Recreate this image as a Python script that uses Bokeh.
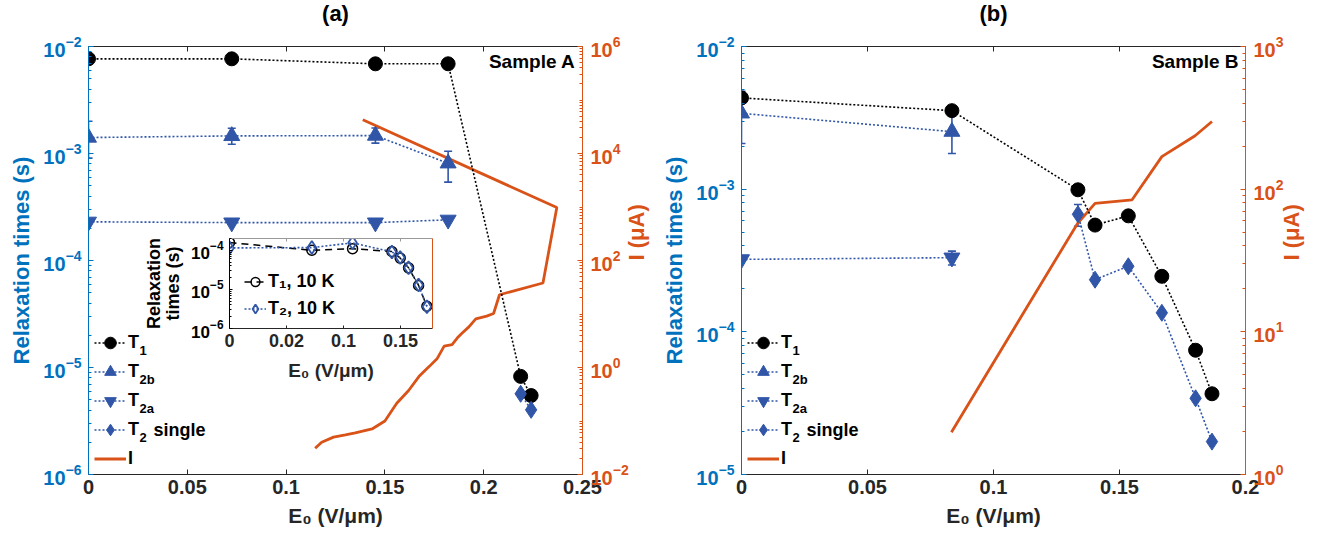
import math
from bokeh.plotting import figure
from bokeh.models import (Range1d, LogScale, LogAxis, LinearAxis, FixedTicker, CustomJSTickFormatter,
                          Whisker, TeeHead, ColumnDataSource, Legend, LegendItem, Label)
from bokeh.layouts import row, column
from bokeh.embed import file_html
from bokeh.resources import INLINE

# ---------------- data: panel (a), Sample A ----------------
a_T1_E = [0.0, 0.0725, 0.1452, 0.1820, 0.2187, 0.2240]
a_T1 = [7.67e-3, 7.67e-3, 6.89e-3, 6.89e-3, 8.26e-6, 5.47e-6]
a_T2b_E = [0.0, 0.0725, 0.1452, 0.1820]
a_T2b = [1.41e-3, 1.46e-3, 1.47e-3, 8.10e-4]
a_T2b_lo = [9.05e-4, 1.22e-3, 1.25e-3, 5.40e-4]
a_T2b_hi = [2.00e-3, 1.72e-3, 1.73e-3, 1.05e-3]
a_T2a_E = [0.0, 0.0725, 0.1452, 0.1820]
a_T2a = [2.30e-4, 2.26e-4, 2.26e-4, 2.40e-4]
a_T2s_E = [0.2187, 0.2240]
a_T2s = [5.68e-6, 4.02e-6]
a_I_E = [0.1147, 0.1180, 0.1240, 0.1300, 0.1350, 0.1435, 0.1500, 0.1560, 0.1620, 0.1672,
         0.1725, 0.1765, 0.1800, 0.1840, 0.1866, 0.1890, 0.1925, 0.1960, 0.2015, 0.2050,
         0.2080, 0.2300, 0.2370, 0.1388]
a_I = [0.031, 0.040, 0.050, 0.055, 0.060, 0.071, 0.100, 0.214, 0.372, 0.676,
       1.05, 1.48, 2.51, 2.69, 3.55, 4.37, 5.75, 8.13, 9.12, 10.2,
       22.9, 38.0, 977.0, 42700.0]

# inset of panel (a): 10 K data
ins_E = [0.0, 0.0722, 0.1079, 0.1424, 0.1497, 0.1570, 0.1658, 0.1731]
ins_T1 = [1.58e-4, 1.00e-4, 1.10e-4, 9.3e-5, 6.3e-5, 3.55e-5, 1.26e-5, 3.7e-6]
ins_T2 = [1.15e-4, 1.17e-4, 1.55e-4, 9.1e-5, 6.5e-5, 3.6e-5, 1.29e-5, 3.6e-6]
ins_x_ticks = [0.0, 0.05, 0.1, 0.15]
ins_x_labels = ["0", "0.02", "0.1", "0.15"]
ins_y_ticks = [1e-6, 1e-5, 1e-4]

# ---------------- data: panel (b), Sample B ----------------
b_T1_E = [0.0, 0.0835, 0.1335, 0.1403, 0.1535, 0.1668, 0.1802, 0.1867]
b_T1 = [4.36e-3, 3.55e-3, 9.9e-4, 5.6e-4, 6.5e-4, 2.45e-4, 7.43e-5, 3.68e-5]
b_T2b_E = [0.0, 0.0835]
b_T2b = [3.40e-3, 2.53e-3]
b_T2b_lo = [2.09e-3, 1.78e-3]
b_T2b_hi = [4.85e-3, 3.49e-3]
b_T2a_E = [0.0, 0.0835]
b_T2a = [3.22e-4, 3.31e-4]
b_T2a_lo = [3.22e-4, 2.94e-4]
b_T2a_hi = [3.22e-4, 3.68e-4]
b_T2s_E = [0.1335, 0.1403, 0.1535, 0.1668, 0.1802, 0.1867]
b_T2s = [6.67e-4, 2.32e-4, 2.88e-4, 1.36e-4, 3.42e-5, 1.70e-5]
b_T2s_errE = [0.1335]
b_T2s_lo = [5.5e-4]
b_T2s_hi = [7.8e-4]
b_I_E = [0.0833, 0.1333, 0.1403, 0.1550, 0.1668, 0.1800, 0.1867]
b_I = [1.98, 57.3, 79.6, 84.2, 169.0, 237.0, 298.0]

# tick labels
a_x_ticks = [0.0, 0.05, 0.1, 0.15, 0.2, 0.25]
a_x_labels = ["0", "0.05", "0.1", "0.15", "0.2", "0.25"]
b_x_ticks = [0.0, 0.05, 0.1, 0.15, 0.2]
b_x_labels = ["0", "0.05", "0.1", "0.15", "0.2"]
a_y_ticks = [1e-6, 1e-5, 1e-4, 1e-3, 1e-2]
a_y2_ticks = [1e-2, 1e0, 1e2, 1e4, 1e6]
b_y_ticks = [1e-5, 1e-4, 1e-3, 1e-2]
b_y2_ticks = [1e0, 1e1, 1e2, 1e3]

# ---------------- style ----------------
FONT = "Liberation Sans"
AXBLUE = "#0072BD"
ORANGE = "#D95319"
GRAY = "#262626"
MBLUE = "#3156A8"
FRAME_H = 428
ROW = 29
TOP = 70      # top border (room for the panel title)
SHIFT = 24    # the whole row is lifted by this many pixels


def minors(lo, hi, majors):
    return [m * 10.0 ** k for k in range(lo, hi) for m in range(1, 10)
            if not any(abs(m * 10.0 ** k - t) < 1e-12 * t for t in majors)]


def lookup_formatter(ticks, labels):
    return CustomJSTickFormatter(
        args=dict(tv=list(ticks), tl=list(labels)),
        code="for (let i = 0; i < tv.length; i++) { if (Math.abs(tv[i] - tick) < 1e-9) return tl[i]; } return '';")


def style_axis(ax, color, label_color, size, lab_size):
    ax.axis_line_color = color
    ax.major_tick_line_color = color
    ax.minor_tick_line_color = color
    ax.major_tick_in = 5
    ax.major_tick_out = 0
    ax.minor_tick_in = 3
    ax.minor_tick_out = 0
    ax.major_label_text_color = label_color
    ax.major_label_text_font = FONT
    ax.major_label_text_font_style = "bold"
    ax.major_label_text_font_size = size
    ax.axis_label_text_font = FONT
    ax.axis_label_text_font_style = "bold"
    ax.axis_label_text_font_size = lab_size
    ax.axis_label_text_color = label_color


def hide_labels(ax):
    ax.major_label_text_font_size = "0px"
    ax.major_label_text_color = None
    ax.major_label_standoff = 0


def build_panel(title, xr, x_ticks, x_labels, yr, y_ticks, y_min, y2r, y2_ticks, y2_min,
                frame_w, b_left, b_right, sample):
    p = figure(title=title, x_range=Range1d(*xr), y_range=Range1d(*yr), y_axis_type="log",
               frame_width=frame_w, frame_height=FRAME_H, min_border_left=b_left,
               min_border_right=b_right, min_border_top=TOP, min_border_bottom=59,
               output_backend="svg", toolbar_location=None)
    p.outline_line_color = None
    p.xgrid.visible = False
    p.ygrid.visible = False
    p.background_fill_color = "white"
    p.border_fill_color = "white"
    p.title.align = "center"
    p.title.vertical_align = "bottom"
    p.title.text_font = FONT
    p.title.text_font_size = "22px"
    p.title.text_font_style = "bold"
    p.title.text_color = "black"
    p.title.standoff = 42
    p.extra_y_ranges = {"I": Range1d(*y2r)}
    p.extra_y_scales = {"I": LogScale()}

    xa = p.below[0]
    xa.ticker = FixedTicker(ticks=x_ticks)
    xa.formatter = lookup_formatter(x_ticks, x_labels)
    style_axis(xa, GRAY, GRAY, "20px", "21px")
    xa.minor_tick_line_color = None
    xa.axis_label = "E₀ (V/μm)"
    xa.major_label_standoff = 5
    xa.axis_label_standoff = 7

    ya = p.left[0]
    ya.ticker = FixedTicker(ticks=y_ticks, minor_ticks=y_min)
    style_axis(ya, AXBLUE, AXBLUE, "20px", "22px")
    ya.axis_label = "Relaxation times (s)"
    ya.major_label_standoff = 7
    ya.axis_label_standoff = 6

    ra = LogAxis(y_range_name="I", ticker=FixedTicker(ticks=y2_ticks, minor_ticks=y2_min),
                 axis_label="I (μA)")
    style_axis(ra, ORANGE, ORANGE, "20px", "22px")
    ra.major_label_standoff = 8
    ra.axis_label_standoff = 5
    if "axis_label_orientation" in ra.properties():
        ra.axis_label_orientation = math.pi / 2
    p.add_layout(ra, "right")

    ta = LinearAxis(ticker=FixedTicker(ticks=x_ticks))
    style_axis(ta, GRAY, GRAY, "20px", "22px")
    ta.minor_tick_line_color = None
    hide_labels(ta)
    p.add_layout(ta, "above")

    p.add_layout(Label(x=frame_w - 7, y=FRAME_H - 15, x_units="screen", y_units="screen",
                       text=sample, text_align="right", text_baseline="middle", text_font=FONT,
                       text_font_size="19px", text_font_style="bold", text_color="black"))
    return p


def add_series(p, E, vals, marker, color, size, line_color):
    ln = p.line(E, vals, line_color=line_color, line_dash="2 2", line_width=1.6)
    sc = p.scatter(E, vals, marker=marker, size=size, fill_color=color, line_color=color)
    return [ln, sc]


def add_err(p, E, lo, hi):
    src = ColumnDataSource(dict(base=E, lower=lo, upper=hi))
    w = Whisker(source=src, base="base", lower="lower", upper="upper", dimension="height",
                line_color=MBLUE, line_width=1.6,
                upper_head=TeeHead(size=8, line_color=MBLUE, line_width=1.6),
                lower_head=TeeHead(size=8, line_color=MBLUE, line_width=1.6))
    p.add_layout(w)


def add_legend(p, r1, r2b, r2a, r2s, rI):
    items = [LegendItem(label="T", renderers=r1), LegendItem(label="T", renderers=r2b),
             LegendItem(label="T", renderers=r2a), LegendItem(label="T", renderers=r2s),
             LegendItem(label="I", renderers=[rI])]
    lg = Legend(items=items, location=(6, 1.5), orientation="vertical", padding=0, margin=0,
                spacing=0, glyph_width=32, glyph_height=ROW, label_height=ROW, label_standoff=2,
                label_text_font=FONT, label_text_font_size="18px", label_text_font_style="bold",
                label_text_color="black", border_line_color=None, background_fill_alpha=0)
    p.add_layout(lg)
    top_c = 1.5 + ROW * 4.5
    subs = ["1", "2b", "2a", "2"]
    for i, s in enumerate(subs):
        yc = top_c - ROW * i
        p.add_layout(Label(x=51, y=yc - 8, x_units="screen", y_units="screen", text=s,
                           text_align="left", text_baseline="middle", text_font=FONT,
                           text_font_size="13px", text_font_style="bold", text_color="black"))
    p.add_layout(Label(x=65, y=top_c - ROW * 3, x_units="screen", y_units="screen", text="single",
                       text_align="left", text_baseline="middle", text_font=FONT,
                       text_font_size="18px", text_font_style="bold", text_color="black"))


# ---------------- panel (a) ----------------
pa = build_panel("(a)", (0, 0.25), a_x_ticks, a_x_labels, (1e-6, 1e-2), a_y_ticks,
                 minors(-6, -2, a_y_ticks), (1e-2, 1e6), a_y2_ticks, minors(-2, 6, a_y2_ticks),
                 494, 75, 83, "Sample A")
rIa = pa.line(a_I_E, a_I, y_range_name="I", line_color=ORANGE, line_width=2.8)
add_err(pa, a_T2b_E, a_T2b_lo, a_T2b_hi)
r1 = add_series(pa, a_T1_E, a_T1, "circle", "black", 14, "black")
r2b = add_series(pa, a_T2b_E, a_T2b, "triangle", MBLUE, 16, MBLUE)
r2a = add_series(pa, a_T2a_E, a_T2a, "inverted_triangle", MBLUE, 16, MBLUE)
r2s = add_series(pa, a_T2s_E, a_T2s, "diamond", MBLUE, 17, MBLUE)
add_legend(pa, r1, r2b, r2a, r2s, rIa)

# ---------------- inset ----------------
ins = figure(x_range=Range1d(0, 0.178), y_range=Range1d(1e-6, 2e-4), y_axis_type="log",
             frame_width=203, frame_height=90, min_border_left=86, min_border_right=6,
             min_border_top=6, min_border_bottom=62, output_backend="svg", toolbar_location=None)
ins.border_fill_color = None
ins.background_fill_color = "white"
ins.outline_line_color = None
ins.xgrid.visible = False
ins.ygrid.visible = False
ixa = ins.below[0]
ixa.ticker = FixedTicker(ticks=ins_x_ticks)
ixa.formatter = lookup_formatter(ins_x_ticks, ins_x_labels)
style_axis(ixa, GRAY, GRAY, "18px", "19px")
ixa.minor_tick_line_color = None
ixa.major_tick_in = 3
ixa.axis_label = "E₀ (V/μm)"
ixa.major_label_standoff = 5
ixa.axis_label_standoff = 10
iya = ins.left[0]
iya.ticker = FixedTicker(ticks=ins_y_ticks, minor_ticks=minors(-6, -3, ins_y_ticks))
style_axis(iya, "black", "black", "17px", "18px")
iya.major_tick_in = 3
iya.minor_tick_in = 2
iya.axis_label = "Relaxation\ntimes (s)"
iya.axis_label_text_line_height = 0.95
iya.major_label_standoff = 6
iya.axis_label_standoff = 5
ira = LogAxis(ticker=FixedTicker(ticks=[]))
style_axis(ira, ORANGE, ORANGE, "15px", "15px")
hide_labels(ira)
ins.add_layout(ira, "right")
ita = LinearAxis(ticker=FixedTicker(ticks=ins_x_ticks))
style_axis(ita, "#999999", GRAY, "15px", "15px")
ita.major_tick_in = 3
ita.minor_tick_line_color = None
hide_labels(ita)
ins.add_layout(ita, "above")
i1l = ins.line(ins_E, ins_T1, line_color="black", line_dash="7 5", line_width=1.5)
i1s = ins.scatter(ins_E, ins_T1, marker="circle", size=10, fill_color=None, line_color="black",
                  line_width=1.5)
i2l = ins.line(ins_E, ins_T2, line_color=MBLUE, line_dash="2 2", line_width=1.6)
i2s = ins.scatter(ins_E, ins_T2, marker="diamond", size=13, fill_color=None, line_color=MBLUE,
                  line_width=1.8)
ilg = Legend(items=[LegendItem(label="T₁, 10 K", renderers=[i1l, i1s]),
                    LegendItem(label="T₂, 10 K", renderers=[i2l, i2s])],
             location=(15, 7), padding=0, margin=0, spacing=2, glyph_width=22, glyph_height=25,
             label_height=25, label_standoff=2, label_text_font=FONT, label_text_font_size="18px",
             label_text_font_style="bold", label_text_color="black", border_line_color=None,
             background_fill_alpha=0)
ins.add_layout(ilg)
ins.margin = (-301, 0, 0, 141)

# ---------------- panel (b) ----------------
pb = build_panel("(b)", (0, 0.2), b_x_ticks, b_x_labels, (1e-5, 1e-2), b_y_ticks,
                 minors(-5, -2, b_y_ticks), (1e0, 1e3), b_y2_ticks, minors(0, 3, b_y2_ticks),
                 504, 79, 69, "Sample B")
rIb = pb.line(b_I_E, b_I, y_range_name="I", line_color=ORANGE, line_width=2.8)
add_err(pb, b_T2b_E, b_T2b_lo, b_T2b_hi)
add_err(pb, b_T2a_E, b_T2a_lo, b_T2a_hi)
add_err(pb, b_T2s_errE, b_T2s_lo, b_T2s_hi)
q1 = add_series(pb, b_T1_E, b_T1, "circle", "black", 14, "black")
q2b = add_series(pb, b_T2b_E, b_T2b, "triangle", MBLUE, 16, MBLUE)
q2a = add_series(pb, b_T2a_E, b_T2a, "inverted_triangle", MBLUE, 16, MBLUE)
q2s = add_series(pb, b_T2s_E, b_T2s, "diamond", MBLUE, 17, MBLUE)
add_legend(pb, q1, q2b, q2a, q2s, rIb)

layout = row(column(pa, ins), pb, margin=(-SHIFT, 0, 0, 0))
open("out.html", "w").write(file_html(layout, INLINE))
